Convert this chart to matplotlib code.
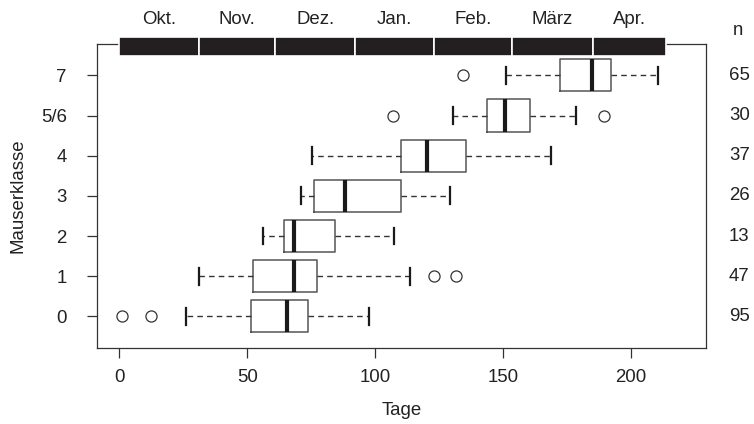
import numpy as np
import matplotlib
matplotlib.use('Agg')
import matplotlib.pyplot as plt
import matplotlib.transforms as mtransforms

plt.rcParams['font.family'] = ['Liberation Sans', 'DejaVu Sans']

###### daten ######
klassen = ['0', '1', '2', '3', '4', '5/6', '7']
anzahl = [95, 47, 13, 26, 37, 30, 65]
whis_lo = [26, 31.3, 56.1, 71, 75.3, 130.2, 151]
q1 = [51.6, 52.3, 64.3, 76.2, 110, 143.5, 172.3]
median = [65.4, 68.1, 68.1, 88, 120.1, 150.8, 184.8]
q3 = [73.8, 77.1, 84.4, 110, 135.5, 160.5, 192.2]
whis_hi = [97.4, 113.6, 107.2, 129.2, 168.6, 178.3, 210.4]
ausreisser = [[1.2, 12.3], [123, 131.4], [], [], [], [107, 189.3], [134.4]]

monate = ['Okt.', 'Nov.', 'Dez.', 'Jan.', 'Feb.', 'März', 'Apr.']
monat_start = [0, 31, 61, 92, 123, 153.5, 185]
monat_ende = [31, 61, 92, 123, 153.5, 185, 213.5]

FS = 13.4
TXT = '#222222'

###### statistik fuer bxp ######
stats = []
for i in range(len(klassen)):
    stats.append({'med': median[i], 'q1': q1[i], 'q3': q3[i],
                  'whislo': whis_lo[i], 'whishi': whis_hi[i],
                  'fliers': ausreisser[i], 'label': klassen[i]})

fig = plt.figure(figsize=(7.54, 4.24), dpi=100)
ax = fig.add_axes([0.129, 0.180, 0.8073, 0.7162])

pos = np.arange(1, len(klassen) + 1)
props = dict(
    positions=pos, widths=0.8, capwidths=0.42,
    boxprops=dict(color='#555555', linewidth=1.1),
    medianprops=dict(color='#1a1a1a', linewidth=3, solid_capstyle='butt'),
    whiskerprops=dict(color='#333333', linewidth=1.0, linestyle=(0, (4, 3))),
    capprops=dict(color='#1a1a1a', linewidth=1.6),
    flierprops=dict(marker='o', markerfacecolor='none', markeredgecolor='#333333',
                    markersize=8, markeredgewidth=0.9),
)
try:
    ax.bxp(stats, orientation='horizontal', **props)
except TypeError:
    ax.bxp(stats, vert=False, **props)

ax.set_xlim(-8.6, 229.2)
ax.set_ylim(0.22, 7.78)
ax.set_xticks([0, 50, 100, 150, 200])
ax.set_yticks(pos)
ax.set_yticklabels(klassen)
ax.tick_params(axis='both', labelsize=FS, length=7, width=0.9, color='#333333',
               labelcolor=TXT)
ax.tick_params(axis='x', pad=8)
ax.tick_params(axis='y', pad=15)
for s in ax.spines.values():
    s.set_color('#333333')
    s.set_linewidth(0.9)

ax.set_xlabel('Tage', fontsize=FS, labelpad=12, color=TXT)
ax.set_ylabel('Mauserklasse', fontsize=FS, labelpad=10, color=TXT)

###### monatsbalken oben ######
breite = np.array(monat_ende) - np.array(monat_start)
ax.barh([7.72] * len(monate), breite, left=monat_start, height=0.49,
        color='#231f20', edgecolor='white', linewidth=1.2, clip_on=False, zorder=5)
for i, m in enumerate(monate):
    ax.text((monat_start[i] + monat_ende[i]) / 2, 8.39, m, ha='center', va='center',
            fontsize=FS, color=TXT, clip_on=False)

###### n rechts ######
trans = mtransforms.blended_transform_factory(ax.transAxes, ax.transData)
ax.text(1.044, 8.12, 'n', transform=trans, ha='left', va='center', fontsize=FS, color=TXT)
for i, n in enumerate(anzahl):
    ax.text(1.038, pos[i], str(n), transform=trans, ha='left', va='center',
            fontsize=FS, color=TXT)

fig.savefig('out.png', dpi=100)
